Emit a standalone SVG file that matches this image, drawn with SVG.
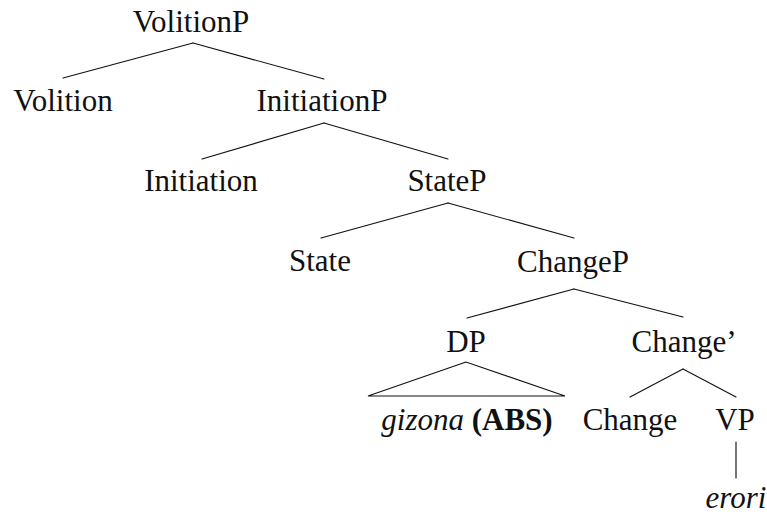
<svg xmlns="http://www.w3.org/2000/svg" width="767" height="514" viewBox="0 0 767 514">
  <style>
    text { font-family: "Liberation Serif", "DejaVu Serif", serif; font-size: 31px; fill: #111; text-anchor: middle; }
    .it { font-style: italic; }
    .b { font-weight: bold; }
    .edge { stroke: #111; stroke-width: 1.15; fill: none; stroke-linecap: round; }
  </style>
  <rect width="767" height="514" fill="#fff"/>

  <g id="connectors">
    <line class="edge" x1="193" y1="43" x2="63" y2="78"/>
    <line class="edge" x1="193" y1="43" x2="324" y2="79"/>
    <line class="edge" x1="324" y1="123" x2="202" y2="159"/>
    <line class="edge" x1="324" y1="123" x2="448" y2="159"/>
    <line class="edge" x1="448" y1="203" x2="321" y2="238"/>
    <line class="edge" x1="448" y1="203" x2="574" y2="238"/>
    <line class="edge" x1="574" y1="289" x2="467" y2="318"/>
    <line class="edge" x1="574" y1="289" x2="683" y2="317"/>
    <polygon class="edge" points="466,362 368,396 565,396" stroke-linejoin="miter"/>
    <line class="edge" x1="683" y1="369" x2="630" y2="397"/>
    <line class="edge" x1="683" y1="369" x2="736" y2="397"/>
    <line class="edge" x1="736" y1="442" x2="736" y2="478"/>
  </g>

  <g id="VolitionP"><text x="191" y="32">VolitionP</text></g>
  <g id="Volition"><text x="63" y="111">Volition</text></g>
  <g id="InitiationP"><text x="322" y="111">InitiationP</text></g>
  <g id="Initiation"><text x="201" y="191">Initiation</text></g>
  <g id="StateP"><text x="447" y="191">StateP</text></g>
  <g id="State"><text x="320" y="271">State</text></g>
  <g id="ChangeP"><text x="573" y="272">ChangeP</text></g>
  <g id="DP"><text x="466" y="352">DP</text></g>
  <g id="ChangeBar"><text x="684" y="352">Change’</text></g>
  <g id="gizona"><text x="467" y="430"><tspan class="it">gizona</tspan> <tspan class="b">(ABS)</tspan></text></g>
  <g id="Change"><text x="630" y="430">Change</text></g>
  <g id="VP"><text x="735" y="430">VP</text></g>
  <g id="erori"><text class="it" x="736" y="508">erori</text></g>
</svg>
